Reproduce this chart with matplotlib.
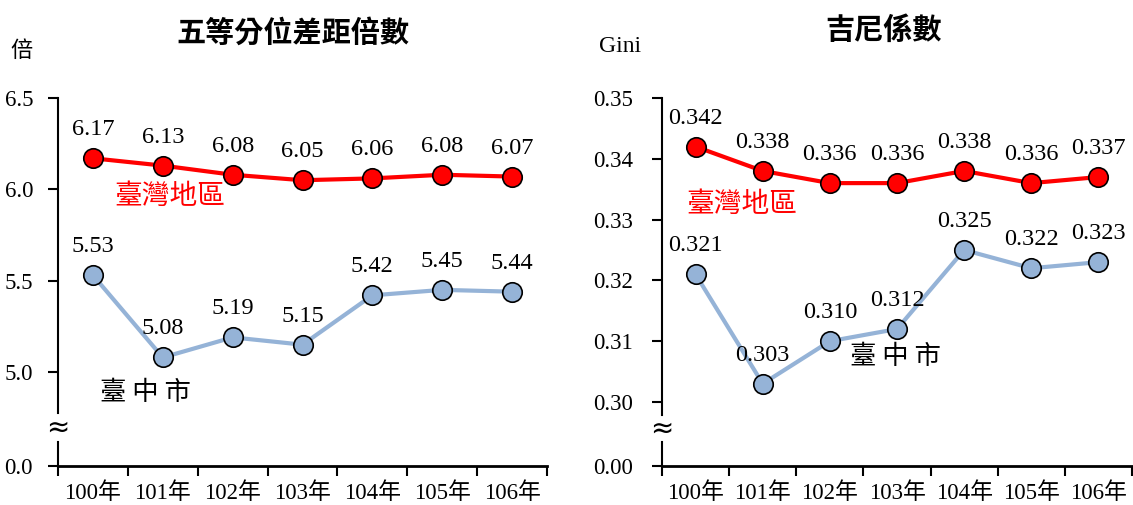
import matplotlib
matplotlib.use("Agg")
import matplotlib.pyplot as plt

plt.rcParams['font.family'] = ['Liberation Serif', 'Noto Sans CJK TC', 'DejaVu Sans']

years = ['100年', '101年', '102年', '103年', '104年', '105年', '106年']
quint_taiwan = [6.17, 6.13, 6.08, 6.05, 6.06, 6.08, 6.07]
quint_taichung = [5.53, 5.08, 5.19, 5.15, 5.42, 5.45, 5.44]
gini_taiwan = [0.342, 0.338, 0.336, 0.336, 0.338, 0.336, 0.337]
gini_taichung = [0.321, 0.303, 0.310, 0.312, 0.325, 0.322, 0.323]

left_ticks = [5.0, 5.5, 6.0, 6.5]
right_ticks = [0.30, 0.31, 0.32, 0.33, 0.34, 0.35]

RED = '#FF0000'
BLUE = '#95B3D7'

fig = plt.figure(figsize=(11.33, 5.05), dpi=100)
axL = fig.add_axes([58/1133, 1-466/505, (547-58)/1133, (466-98)/505])
axR = fig.add_axes([662/1133, 1-466/505, (1132-662)/1133, (466-98)/505])


def style(ax, ybottom, ytop, ticks, fmt, zero_label, gap, ypad):
    ax.set_xlim(-0.5, len(years) - 0.5)
    ax.set_ylim(ybottom, ytop)
    ax.set_yticks([ybottom] + ticks)
    ax.set_yticklabels([zero_label] + [fmt.format(t) for t in ticks], fontsize=16.5)
    ax.set_xticks([i - 0.5 for i in range(len(years) + 1)])
    ax.set_xticklabels([])
    ax.set_xticks(range(len(years)), minor=True)
    ax.set_xticklabels(years, minor=True, fontsize=16.5)
    ax.tick_params(axis='x', which='major', direction='out', length=7, width=1.5)
    ax.tick_params(axis='x', which='minor', length=0, pad=12)
    ax.tick_params(axis='y', direction='out', length=7, width=1.5, pad=ypad)
    for s in ['top', 'right', 'left']:
        ax.spines[s].set_visible(False)
    ax.spines['bottom'].set_linewidth(2)
    lo, hi = gap
    ax.plot([0, 0], [hi, 1], transform=ax.transAxes, color='black', lw=1.5, clip_on=False)
    ax.plot([0, 0], [0, lo], transform=ax.transAxes, color='black', lw=1.5, clip_on=False)
    ax.text(0, (lo + hi) / 2, '≈', transform=ax.transAxes, ha='center', va='center',
            fontsize=20, family=['DejaVu Sans'], clip_on=False)


def draw(ax, top, bottom, fmt, offset):
    x = list(range(len(years)))
    ax.plot(x, bottom, color=BLUE, lw=3, marker='o', markersize=14,
            markerfacecolor=BLUE, markeredgecolor='black', markeredgewidth=1.2, zorder=3, clip_on=False)
    ax.plot(x, top, color=RED, lw=3, marker='o', markersize=14,
            markerfacecolor=RED, markeredgecolor='black', markeredgewidth=1.2, zorder=3, clip_on=False)
    for xi, v in zip(x, top):
        ax.annotate(fmt.format(v), (xi, v), xytext=(0, offset), textcoords='offset points',
                    ha='center', va='bottom', fontsize=17.5)
    for xi, v in zip(x, bottom):
        ax.annotate(fmt.format(v), (xi, v), xytext=(0, offset), textcoords='offset points',
                    ha='center', va='bottom', fontsize=17.5)


style(axL, 4.486, 6.5, left_ticks, '{:.1f}', '0.0', (0.065, 0.144), 11)
style(axR, 0.28947, 0.35, right_ticks, '{:.2f}', '0.00', (0.065, 0.139), 14)

draw(axL, quint_taiwan, quint_taichung, '{:.2f}', 13)
draw(axR, gini_taiwan, gini_taichung, '{:.3f}', 13)

# series names
axL.text(170/1133, 1-196/505, '臺灣地區', transform=fig.transFigure, color=RED,
         fontsize=20, ha='center', va='center', family=['Noto Sans CJK TC'])
axL.text(145/1133, 1-393/505, '臺 中 市', transform=fig.transFigure, color='black',
         fontsize=19, ha='center', va='center', family=['Noto Sans CJK TC'])
axR.text(742/1133, 1-204/505, '臺灣地區', transform=fig.transFigure, color=RED,
         fontsize=20, ha='center', va='center', family=['Noto Sans CJK TC'])
axR.text(895/1133, 1-357/505, '臺 中 市', transform=fig.transFigure, color='black',
         fontsize=19, ha='center', va='center', family=['Noto Sans CJK TC'])

# titles and units
fig.text(293/1133, 1-33/505, '五等分位差距倍數', fontsize=21, fontweight='bold',
         ha='center', va='center', family=['Noto Sans CJK TC'])
fig.text(884/1133, 1-30/505, '吉尼係數', fontsize=21, fontweight='bold',
         ha='center', va='center', family=['Noto Sans CJK TC'])
fig.text(22/1133, 1-50/505, '倍', fontsize=16, ha='center', va='center',
         family=['Noto Sans CJK TC'])
fig.text(620/1133, 1-47/505, 'Gini', fontsize=17, ha='center', va='center')

fig.savefig('out.png', dpi=100)
